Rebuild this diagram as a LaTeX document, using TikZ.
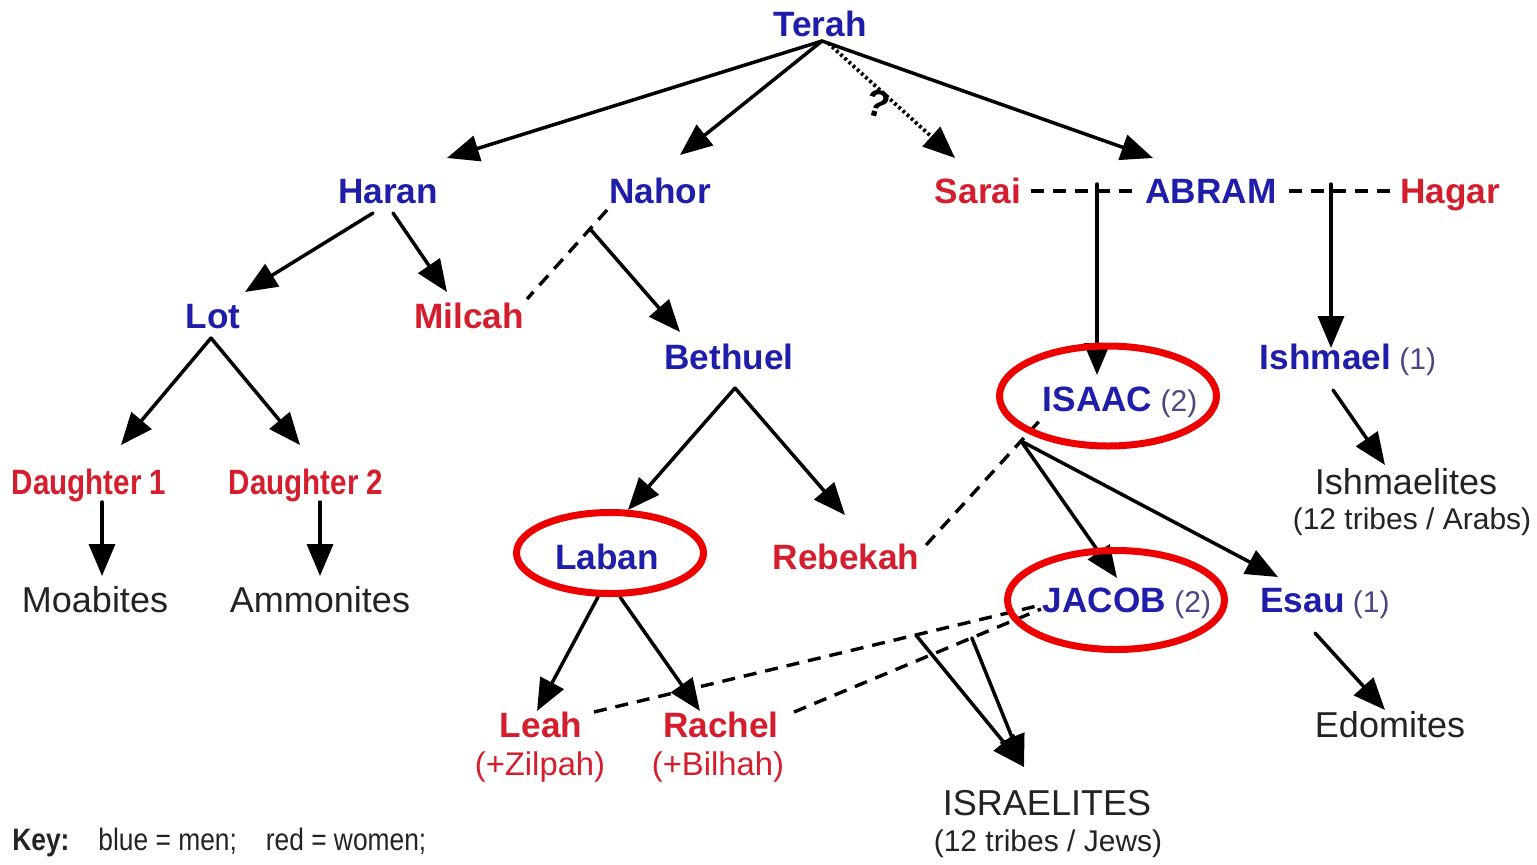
\documentclass[tikz,border=0pt]{standalone}
\usepackage{fontspec}
\setmainfont{Liberation Sans}
\usepackage{graphicx}
\usepackage{xcolor}
\usetikzlibrary{arrows.meta,calc}
\definecolor{manblue}{RGB}{30,30,170}
\definecolor{womanred}{RGB}{212,30,45}
\definecolor{ringred}{RGB}{236,0,0}
\definecolor{numblue}{RGB}{72,72,130}
\definecolor{folkgray}{RGB}{35,35,35}
\newcommand\gennum[1]{{\mdseries\fontsize{15}{17}\selectfont\color{numblue}~#1}}

\begin{document}
\begin{tikzpicture}[x=.5pt,y=-.5pt,line cap=round,line join=round,
  man/.style={text=manblue,font=\bfseries\fontsize{17.6}{20}\selectfont,inner sep=0pt,text height=12.6pt,text depth=0pt},
  woman/.style={man,text=womanred},
  folk/.style={text=folkgray,font=\fontsize{18}{20}\selectfont,inner sep=0pt,text height=12.9pt,text depth=0pt},
  note/.style={folk,font=\fontsize{15}{17}\selectfont,text height=10.7pt},
  wnote/.style={note,text=womanred,font=\fontsize{16.4}{18}\selectfont,text height=11.7pt},
  arr/.style={line width=1.75pt,-{Triangle[length=16pt,width=13pt]}},
  wed/.style={line width=1.7pt,dash pattern=on 6.5pt off 4.5pt,line cap=butt},
  dots/.style={line width=1.9pt,dash pattern=on 1.4pt off 1.4pt,line cap=butt},
  ring/.style={draw=ringred,line width=3.5pt}]
\useasboundingbox (0,0) rectangle (1537,864);
\node[man] (terah) at (820,24) {Terah};
\node[man] (haran) at (388,191) {Haran};
\node[man] (nahor) at (660,191) {Nahor};
\node[woman] (sarai) at (978,191) {Sarai};
\node[man] (abram) at (1211,191) {ABRAM};
\node[woman] (hagar) at (1450,191) {Hagar};
\node[man] (lot) at (213,316) {Lot};
\node[woman] (milcah) at (469,316) {Milcah};
\node[man] (bethuel) at (729,357) {Bethuel};
\node[man] (isaac) at (1120,399) {ISAAC\gennum{(2)}};
\node[man] (ishmael) at (1348,357) {Ishmael\gennum{(1)}};
\node[woman] (dau1) at (89,482) {\scalebox{.84}[1]{Daughter 1}};
\node[woman] (dau2) at (306,482) {\scalebox{.84}[1]{Daughter 2}};
\node[folk] (moab) at (95,600) {Moabites};
\node[folk] (ammon) at (320,600) {Ammonites};
\node[folk] (ishm) at (1406,482) {Ishmaelites};
\node[note] (ishmnote) at (1412,519) {(12 tribes / Arabs)};
\node[man] (laban) at (607,557) {Laban};
\node[woman] (rebekah) at (846,557) {Rebekah};
\node[man] (jacob) at (1127,600) {JACOB\gennum{(2)}};
\node[man] (esau) at (1325,600) {Esau\gennum{(1)}};
\node[woman] (leah) at (541,725) {Leah};
\node[wnote] (zilpah) at (540,764) {(+Zilpah)};
\node[woman] (rachel) at (721,725) {Rachel};
\node[wnote] (bilhah) at (718,764) {(+Bilhah)};
\node[folk] (edom) at (1390,725) {Edomites};
\node[folk] (israel) at (1047,803) {ISRAELITES};
\node[note] (israelnote) at (1048,841) {(12 tribes / Jews)};
\node[folk,anchor=base west,font=\fontsize{15.5}{17}\selectfont] (key) at (12,850)
  {\scalebox{.85}[1]{\textbf{Key:}\hspace{1.1em}blue = men;\hspace{1.1em}red = women;}};
\coordinate (tr) at ($(terah.south)+(2,4)$);
\draw[arr] (tr) -- ($(haran)+(59,-33)$);
\draw[arr] (tr) -- ($(nahor)+(20,-36)$);
\draw[arr,dots] ($(tr)+(6,2)$) -- ($(sarai)+(-23,-33)$);
\node[font=\bfseries\fontsize{19}{21}\selectfont,rotate=-15] (qmark) at (878,104) {?};
\draw[arr] (tr) -- ($(abram)+(-58,-33)$);
\draw[wed] ($(sarai.east)+(10,0)$) -- ($(abram.west)+(-7,0)$);
\coordinate (sa) at (1097,191);
\draw[arr] ($(sa)+(0,-7)$) -- ($(sa |- isaac)+(0,-24)$);
\draw[wed] ($(abram.east)+(12,0)$) -- ($(hagar.west)+(-8,0)$);
\coordinate (ah) at (1331,191);
\draw[arr] ($(ah)+(0,-7)$) -- ($(ah |- ishmael)+(0,-9)$);
\draw[arr] ($(haran)+(-15,22)$) -- ($(lot)+(32,-24)$);
\draw[arr] ($(haran)+(5,22)$) -- ($(milcah)+(-22,-24)$);
\draw[wed] ($(nahor)+(-53,19)$) -- ($(milcah)+(58,-17)$);
\coordinate (nm) at (591,230);
\draw[arr] (nm) -- ($(bethuel)+(-49,-25)$);
\draw[arr] ($(lot)+(-2,22)$) -- ($(dau1)+(32,-37)$);
\draw[arr] ($(lot)+(-2,22)$) -- ($(dau2)+(-6,-37)$);
\draw[arr] ($(dau1)+(13,20)$) -- ($(moab)+(7,-24)$);
\draw[arr] ($(dau2)+(14,20)$) -- ($(ammon)+(0,-24)$);
\draw[arr] ($(bethuel)+(6,31)$) -- ($(laban)+(21,-47)$);
\draw[arr] ($(bethuel)+(6,31)$) -- ($(rebekah)+(-1,-42)$);
\draw[wed] ($(rebekah)+(80,-12)$) -- ($(isaac)+(-77,18)$);
\coordinate (ij) at (1021,441);
\draw[arr] (ij) -- ($(jacob)+(-10,-22)$);
\draw[arr] (ij) -- ($(esau)+(-47,-23)$);
\draw[arr] ($(ishmael)+(-15,33)$) -- ($(ishm)+(-21,-17)$);
\draw[arr] ($(esau)+(-10,33)$) -- ($(edom)+(-5,-15)$);
\draw[arr] ($(laban)+(-9,40)$) -- ($(leah)+(-4,-14)$);
\draw[arr] ($(laban)+(13,40)$) -- ($(rachel)+(-21,-14)$);
\coordinate (lw) at ($(leah)+(53,-13)$);
\coordinate (rw) at ($(rachel)+(73,-13)$);
\coordinate (jw) at ($(jacob)+(-86,5)$);
\draw[wed] (lw) -- (jw);
\draw[wed] (rw) -- ($(jw)+(0,4)$);
\coordinate (lj) at ($(lw)!.72!(jw)$);
\coordinate (rj) at ($(rw)!.72!($(jw)+(0,4)$)$);
\draw[arr] (lj) -- ($(israel)+(-23,-36)$);
\draw[arr] (rj) -- ($(israel)+(-23,-36)$);
\draw[ring] ($(laban)+(3,-4)$) ellipse [x radius=93.5,y radius=40.5];
\draw[ring] ($(isaac)+(-12,-3)$) ellipse [x radius=108.5,y radius=50];
\draw[ring] ($(jacob)+(-11,0)$) ellipse [x radius=108.5,y radius=49.5];
\end{tikzpicture}
\end{document}
